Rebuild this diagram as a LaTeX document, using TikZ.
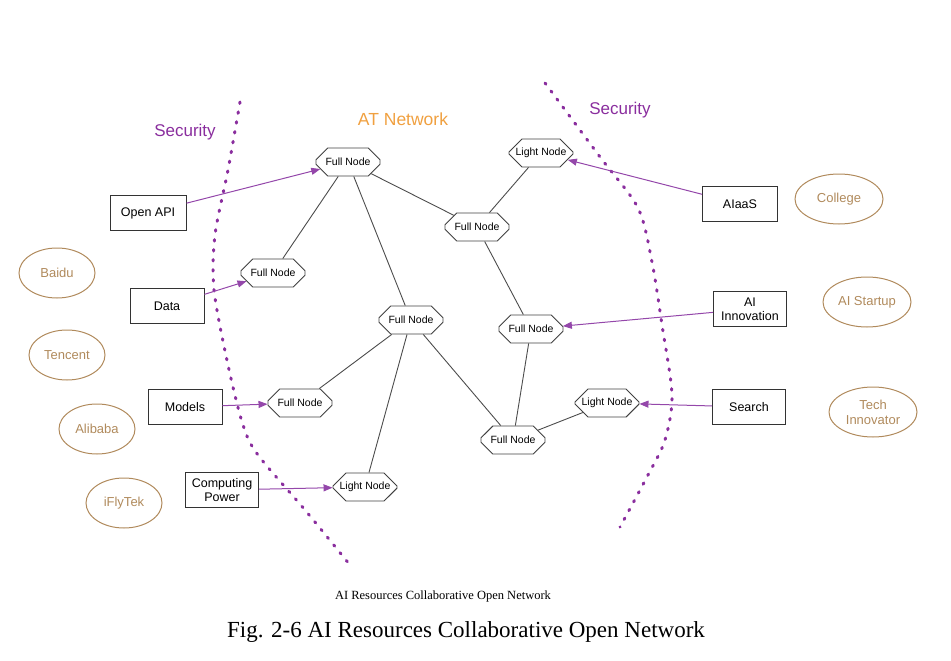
\documentclass[tikz,border=0pt]{standalone}
\usepackage{fontspec}
\setmainfont{Liberation Sans}
\newfontfamily\serifschrift{Liberation Serif}
\usetikzlibrary{shapes.misc,shapes.geometric,arrows.meta}
\definecolor{lila}{HTML}{8A2E9E}
\definecolor{pfeillila}{HTML}{9447AA}
\definecolor{orange}{HTML}{F0A040}
\definecolor{braun}{HTML}{B08A5C}
\begin{document}
\begin{tikzpicture}[x=1pt,y=-1pt,
knoten/.style={chamfered rectangle, chamfered rectangle xsep=9pt, chamfered rectangle ysep=8pt, draw=black!75, line width=0.9pt, minimum width=64pt, minimum height=28pt, inner sep=0pt, font=\fontsize{10.5}{12}\selectfont},
kasten/.style={rectangle, draw=black!80, line width=1pt, minimum width=74pt, minimum height=35pt, align=center, font=\fontsize{12.5}{14}\selectfont},
firma/.style={ellipse, draw=braun, text=braun, line width=1pt, minimum width=76pt, minimum height=50pt, inner sep=0pt, align=center, font=\fontsize{13}{15}\selectfont},
grossfirma/.style={firma, minimum width=88pt},
pfeil/.style={-{Triangle[length=9pt,width=7pt]}, pfeillila, line width=1pt},
kante/.style={black!70, line width=0.9pt},
grenze/.style={lila, line width=3pt, line cap=round, dash pattern=on 1.5pt off 8.5pt},
]
\useasboundingbox (0,0) rectangle (951,661);

% Sicherheitsgrenzen
\draw[grenze] plot[smooth] coordinates {(240,102) (228,170) (215,235) (214,290) (228,365) (243,425) (258,455) (305,510) (350,565)};
\draw[grenze] plot[smooth] coordinates {(545,83) (600,157) (638,208) (652,262) (662,325) (672,395) (665,440) (648,475) (620,527)};

\node[lila, font=\fontsize{17}{19}\selectfont] (sichl) at (185,132) {Security};
\node[lila, font=\fontsize{17}{19}\selectfont] (sichr) at (620,110) {Security};
\node[orange, font=\fontsize{17.5}{19}\selectfont] (netz) at (403,119) {AT Network};

% Knoten
\node[knoten] (F1) at (348,162) {Full Node};
\node[knoten] (L1) at (541,153) {Light Node};
\node[knoten] (F2) at (477,227) {Full Node};
\node[knoten] (F3) at (273,273) {Full Node};
\node[knoten] (F4) at (411,320) {Full Node};
\node[knoten] (F5) at (531,329) {Full Node};
\node[knoten] (F6) at (300,403) {Full Node};
\node[knoten] (L2) at (607,403) {Light Node};
\node[knoten] (F7) at (513,440) {Full Node};
\node[knoten] (L3) at (365,487) {Light Node};

\draw[kante] (F1) -- (F3);
\draw[kante] (F1) -- (F4);
\draw[kante] (F1) -- (F2);
\draw[kante] (L1) -- (F2);
\draw[kante] (F2) -- (F5);
\draw[kante] (F4) -- (F6);
\draw[kante] (F4) -- (F7);
\draw[kante] (F4) -- (L3);
\draw[kante] (F5) -- (F7);
\draw[kante] (F7) -- (L2);

% Ressourcen links
\node[kasten, minimum width=76pt] (api) at (148,213) {Open API};
\node[kasten] (daten) at (167,306) {Data};
\node[kasten] (modell) at (185,407) {Models};
\node[kasten, minimum width=73pt, inner sep=1pt] (rechen) at (222,490) {Computing\\Power};

% Anwendungen rechts
\node[kasten, minimum width=75pt] (aiaas) at (740,204) {AIaaS};
\node[kasten, minimum width=73pt, inner sep=1pt] (innov) at (750,309) {AI\\Innovation};
\node[kasten, minimum width=73pt] (suche) at (749,407) {Search};

\draw[pfeil] (api) -- (F1);
\draw[pfeil] (daten) -- (F3);
\draw[pfeil] (modell) -- (F6);
\draw[pfeil] (rechen) -- (L3);
\draw[pfeil] (aiaas) -- (L1);
\draw[pfeil] (innov) -- (F5);
\draw[pfeil] (suche) -- (L2);

% Firmen
\node[firma] (baidu) at (57,273) {Baidu};
\node[firma] (tencent) at (67,355) {Tencent};
\node[firma] (alibaba) at (97,429) {Alibaba};
\node[firma] (ifly) at (124,503) {iFlyTek};
\node[grossfirma] (college) at (839,199) {College};
\node[grossfirma] (startup) at (867,302) {AI Startup};
\node[grossfirma] (tech) at (873,412) {Tech\\Innovator};

% Unterschriften
\node[font=\serifschrift\fontsize{12.5}{14}\selectfont] (klein) at (443,596) {AI Resources Collaborative Open Network};
\node[font=\serifschrift\fontsize{23}{26}\selectfont] (bild) at (466,632) {Fig. 2-6 AI Resources Collaborative Open Network};

\end{tikzpicture}
\end{document}
